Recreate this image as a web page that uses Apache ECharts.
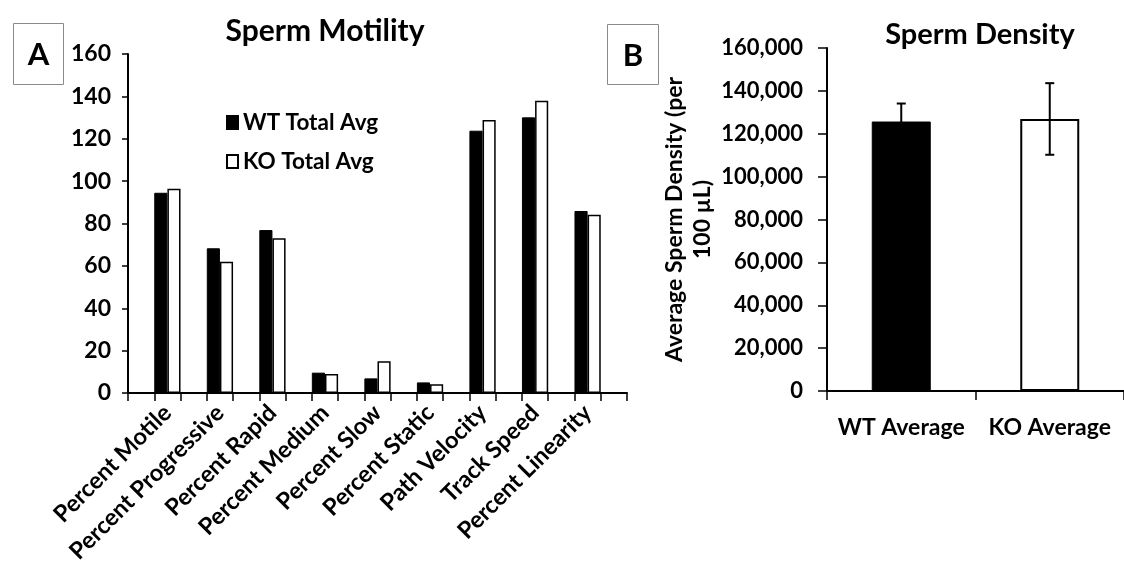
<!DOCTYPE html>
<html><head><meta charset="utf-8">
<script src="https://cdn.jsdelivr.net/npm/echarts@6/dist/echarts.min.js"></script>
<style>html,body{margin:0;padding:0;background:#fff}#c{width:1124px;height:575px}</style>
</head><body><div id="c"></div>
<script>
// ---- Data ----
const motilityCategories = ['Percent Motile','Percent Progressive','Percent Rapid','Percent Medium','Percent Slow','Percent Static','Path Velocity','Track Speed','Percent Linearity'];
const wtTotalAvg = [94.5, 68.3, 76.9, 9.6, 6.9, 5.0, 123.8, 130.1, 85.9];
const koTotalAvg = [96.4, 62.0, 73.0, 9.0, 15.0, 4.1, 128.8, 137.9, 84.1];
const motilityAxis = {min: 0, max: 160, interval: 20};

const densityCategories = ['WT Average','KO Average'];
const densityMean = [125700, 126900];
const densityError = [8400, 16700];
const densityAxis = {min: 0, max: 160000, interval: 20000};

// Spaced layout: blank slot, category, blank slot, ... blank slot
const slotCats = [], wtSlots = [], koSlots = [];
for (let k = 0; k < motilityCategories.length * 2 + 1; k++) {
  if (k % 2 === 1) {
    const i = (k - 1) / 2;
    slotCats.push(motilityCategories[i]); wtSlots.push(wtTotalAvg[i]); koSlots.push(koTotalAvg[i]);
  } else {
    slotCats.push(''); wtSlots.push('-'); koSlots.push('-');
  }
}

const FONT = 'Lato';
const txt = (size, weight) => ({fontFamily: FONT, fontSize: size, fontWeight: weight || 'bold', color: '#000'});

const chart = echarts.init(document.getElementById('c'), null, {renderer: 'canvas'});
chart.setOption({
  animation: false,
  backgroundColor: '#fff',
  title: [
    {text: 'Sperm Motility', left: 320, top: 11, textAlign: 'center', textStyle: txt(30)},
    {text: 'Sperm Density', left: 975, top: 15, textAlign: 'center', textStyle: txt(29)}
  ],
  legend: {
    orient: 'vertical', left: 221, top: 106, itemWidth: 11, itemHeight: 13, itemGap: 16,
    icon: 'rect', textStyle: txt(22.5), data: ['WT Total Avg', 'KO Total Avg']
  },
  grid: [
    {left: 128, top: 54, width: 499, height: 339},
    {left: 827, top: 48, width: 300, height: 343}
  ],
  xAxis: [
    {type: 'category', gridIndex: 0, data: slotCats,
     axisLine: {lineStyle: {color: '#000', width: 2}},
     axisTick: {show: true, interval: 0, length: 8, lineStyle: {color: '#000', width: 1.5}},
     axisLabel: Object.assign({interval: 0, rotate: 45, margin: 16}, txt(23.5))},
    {type: 'category', gridIndex: 1, data: densityCategories,
     axisLine: {lineStyle: {color: '#000', width: 2}},
     axisTick: {show: true, length: 9, lineStyle: {color: '#000', width: 1.5}},
     axisLabel: Object.assign({interval: 0, margin: 25}, txt(23))}
  ],
  yAxis: [
    {type: 'value', gridIndex: 0, min: motilityAxis.min, max: motilityAxis.max, interval: motilityAxis.interval,
     splitLine: {show: false},
     axisLine: {show: true, lineStyle: {color: '#000', width: 2}},
     axisTick: {show: true, length: 6, lineStyle: {color: '#000', width: 1.5}},
     axisLabel: Object.assign({margin: 17}, txt(23))},
    {type: 'value', gridIndex: 1, min: densityAxis.min, max: densityAxis.max, interval: densityAxis.interval,
     splitLine: {show: false},
     axisLine: {show: true, lineStyle: {color: '#000', width: 2}},
     axisTick: {show: true, length: 9, lineStyle: {color: '#000', width: 1.5}},
     axisLabel: Object.assign({margin: 24, formatter: v => v.toLocaleString('en-US')}, txt(22)),
     name: 'Average Sperm Density (per\n100 µL)', nameLocation: 'middle', nameGap: 110,
     nameTextStyle: Object.assign({lineHeight: 28}, txt(23))}
  ],
  series: [
    {name: 'WT Total Avg', type: 'bar', xAxisIndex: 0, yAxisIndex: 0, data: wtSlots,
     barGap: '0%', barCategoryGap: '0%',
     itemStyle: {color: '#000', borderColor: '#000', borderWidth: 1}},
    {name: 'KO Total Avg', type: 'bar', xAxisIndex: 0, yAxisIndex: 0, data: koSlots,
     barGap: '0%', barCategoryGap: '0%',
     itemStyle: {color: '#fff', borderColor: '#000', borderWidth: 1.5}},
    {name: 'Density', type: 'bar', xAxisIndex: 1, yAxisIndex: 1, barWidth: 59,
     data: densityMean.map((v, i) => ({value: v, itemStyle: i === 0
       ? {color: '#000', borderColor: '#000', borderWidth: 1}
       : {color: '#fff', borderColor: '#000', borderWidth: 2}}))},
    {name: 'Density error', type: 'custom', xAxisIndex: 1, yAxisIndex: 1, z: 10,
     data: densityMean.map((v, i) => [i, v - densityError[i], v + densityError[i]]),
     renderItem: (params, api) => {
       const lo = api.coord([api.value(0), api.value(1)]);
       const hi = api.coord([api.value(0), api.value(2)]);
       const cap = 4.5;
       const st = {stroke: '#000', lineWidth: 2};
       return {type: 'group', children: [
         {type: 'line', shape: {x1: lo[0], y1: lo[1], x2: hi[0], y2: hi[1]}, style: st},
         {type: 'line', shape: {x1: hi[0] - cap, y1: hi[1], x2: hi[0] + cap, y2: hi[1]}, style: st},
         {type: 'line', shape: {x1: lo[0] - cap, y1: lo[1], x2: lo[0] + cap, y2: lo[1]}, style: st}
       ]};
     }}
  ],
  graphic: [
    {type: 'rect', shape: {x: 13.5, y: 23.5, width: 50, height: 61}, style: {fill: '#fff', stroke: '#8a8a8a', lineWidth: 1}},
    {type: 'text', x: 38.5, y: 55, style: {text: 'A', fontFamily: FONT, fontSize: 31, fontWeight: 'bold', fill: '#000', textAlign: 'center', textVerticalAlign: 'middle'}},
    {type: 'rect', shape: {x: 607.5, y: 24.5, width: 51, height: 60}, style: {fill: '#fff', stroke: '#8a8a8a', lineWidth: 1}},
    {type: 'text', x: 633, y: 56, style: {text: 'B', fontFamily: FONT, fontSize: 31, fontWeight: 'bold', fill: '#000', textAlign: 'center', textVerticalAlign: 'middle'}}
  ]
});
</script></body></html>
